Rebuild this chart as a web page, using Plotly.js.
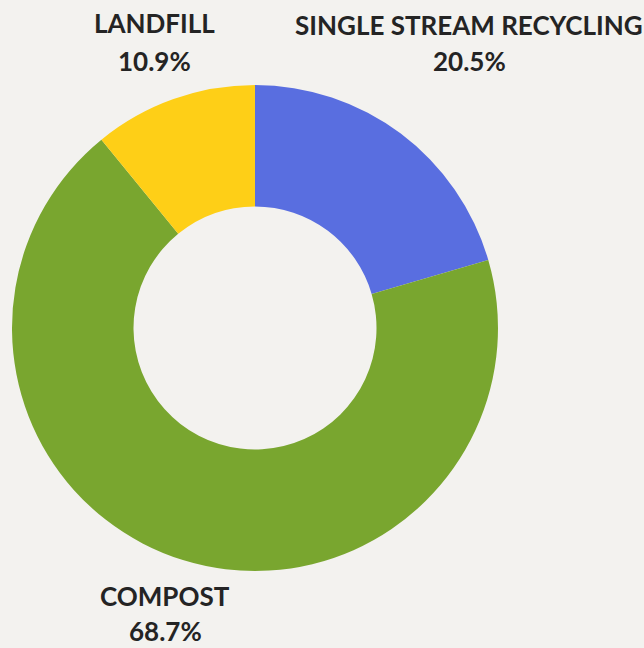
<!DOCTYPE html>
<html>
<head>
<meta charset="utf-8">
<script src="https://cdn.plot.ly/plotly-3.0.1.min.js"></script>
<style>html,body{margin:0;padding:0;background:#f3f2ef;}#chart{width:644px;height:648px;}</style>
</head>
<body>
<div id="chart"></div>
<script>
const categories = ["SINGLE STREAM RECYCLING", "COMPOST", "LANDFILL"];
const shares = [20.5, 68.7, 10.9];
const colors = ["#596ee0", "#79a62f", "#fecf17"];

const W = 644, H = 648;
const cx = 255, cy = 328, r = 243;

// label placement (pixels): center x, label line center y, percent line center y
const labelPlacement = [
  {x: 469, y1: 25, y2: 61},
  {x: 165, y1: 596, y2: 631},
  {x: 154, y1: 23.5, y2: 61}
];

const font = {family: "Lato, sans-serif", size: 26, color: "#242424", weight: "bold"};
const annotations = [];
categories.forEach((c, i) => {
  const p = labelPlacement[i];
  annotations.push({
    xref: "paper", yref: "paper", x: p.x / W, y: 1 - p.y1 / H,
    xanchor: "center", yanchor: "middle", showarrow: false,
    text: c, font: font
  });
  annotations.push({
    xref: "paper", yref: "paper", x: p.x / W, y: 1 - p.y2 / H,
    xanchor: "center", yanchor: "middle", showarrow: false,
    text: shares[i].toFixed(1) + "%", font: font
  });
});

Plotly.newPlot("chart", [{
  type: "pie",
  labels: categories,
  values: shares,
  sort: false,
  direction: "clockwise",
  rotation: 0,
  hole: 0.5,
  marker: {colors: colors, line: {width: 0}},
  textinfo: "none",
  hoverinfo: "none",
  automargin: false,
  domain: {x: [(cx - r) / W, (cx + r) / W], y: [1 - (cy + r) / H, 1 - (cy - r) / H]}
}], {
  width: W, height: H,
  margin: {l: 0, r: 0, t: 0, b: 0},
  paper_bgcolor: "#f3f2ef",
  plot_bgcolor: "#f3f2ef",
  showlegend: false,
  annotations: annotations
}, {displayModeBar: false, staticPlot: true});
</script>
</body>
</html>
